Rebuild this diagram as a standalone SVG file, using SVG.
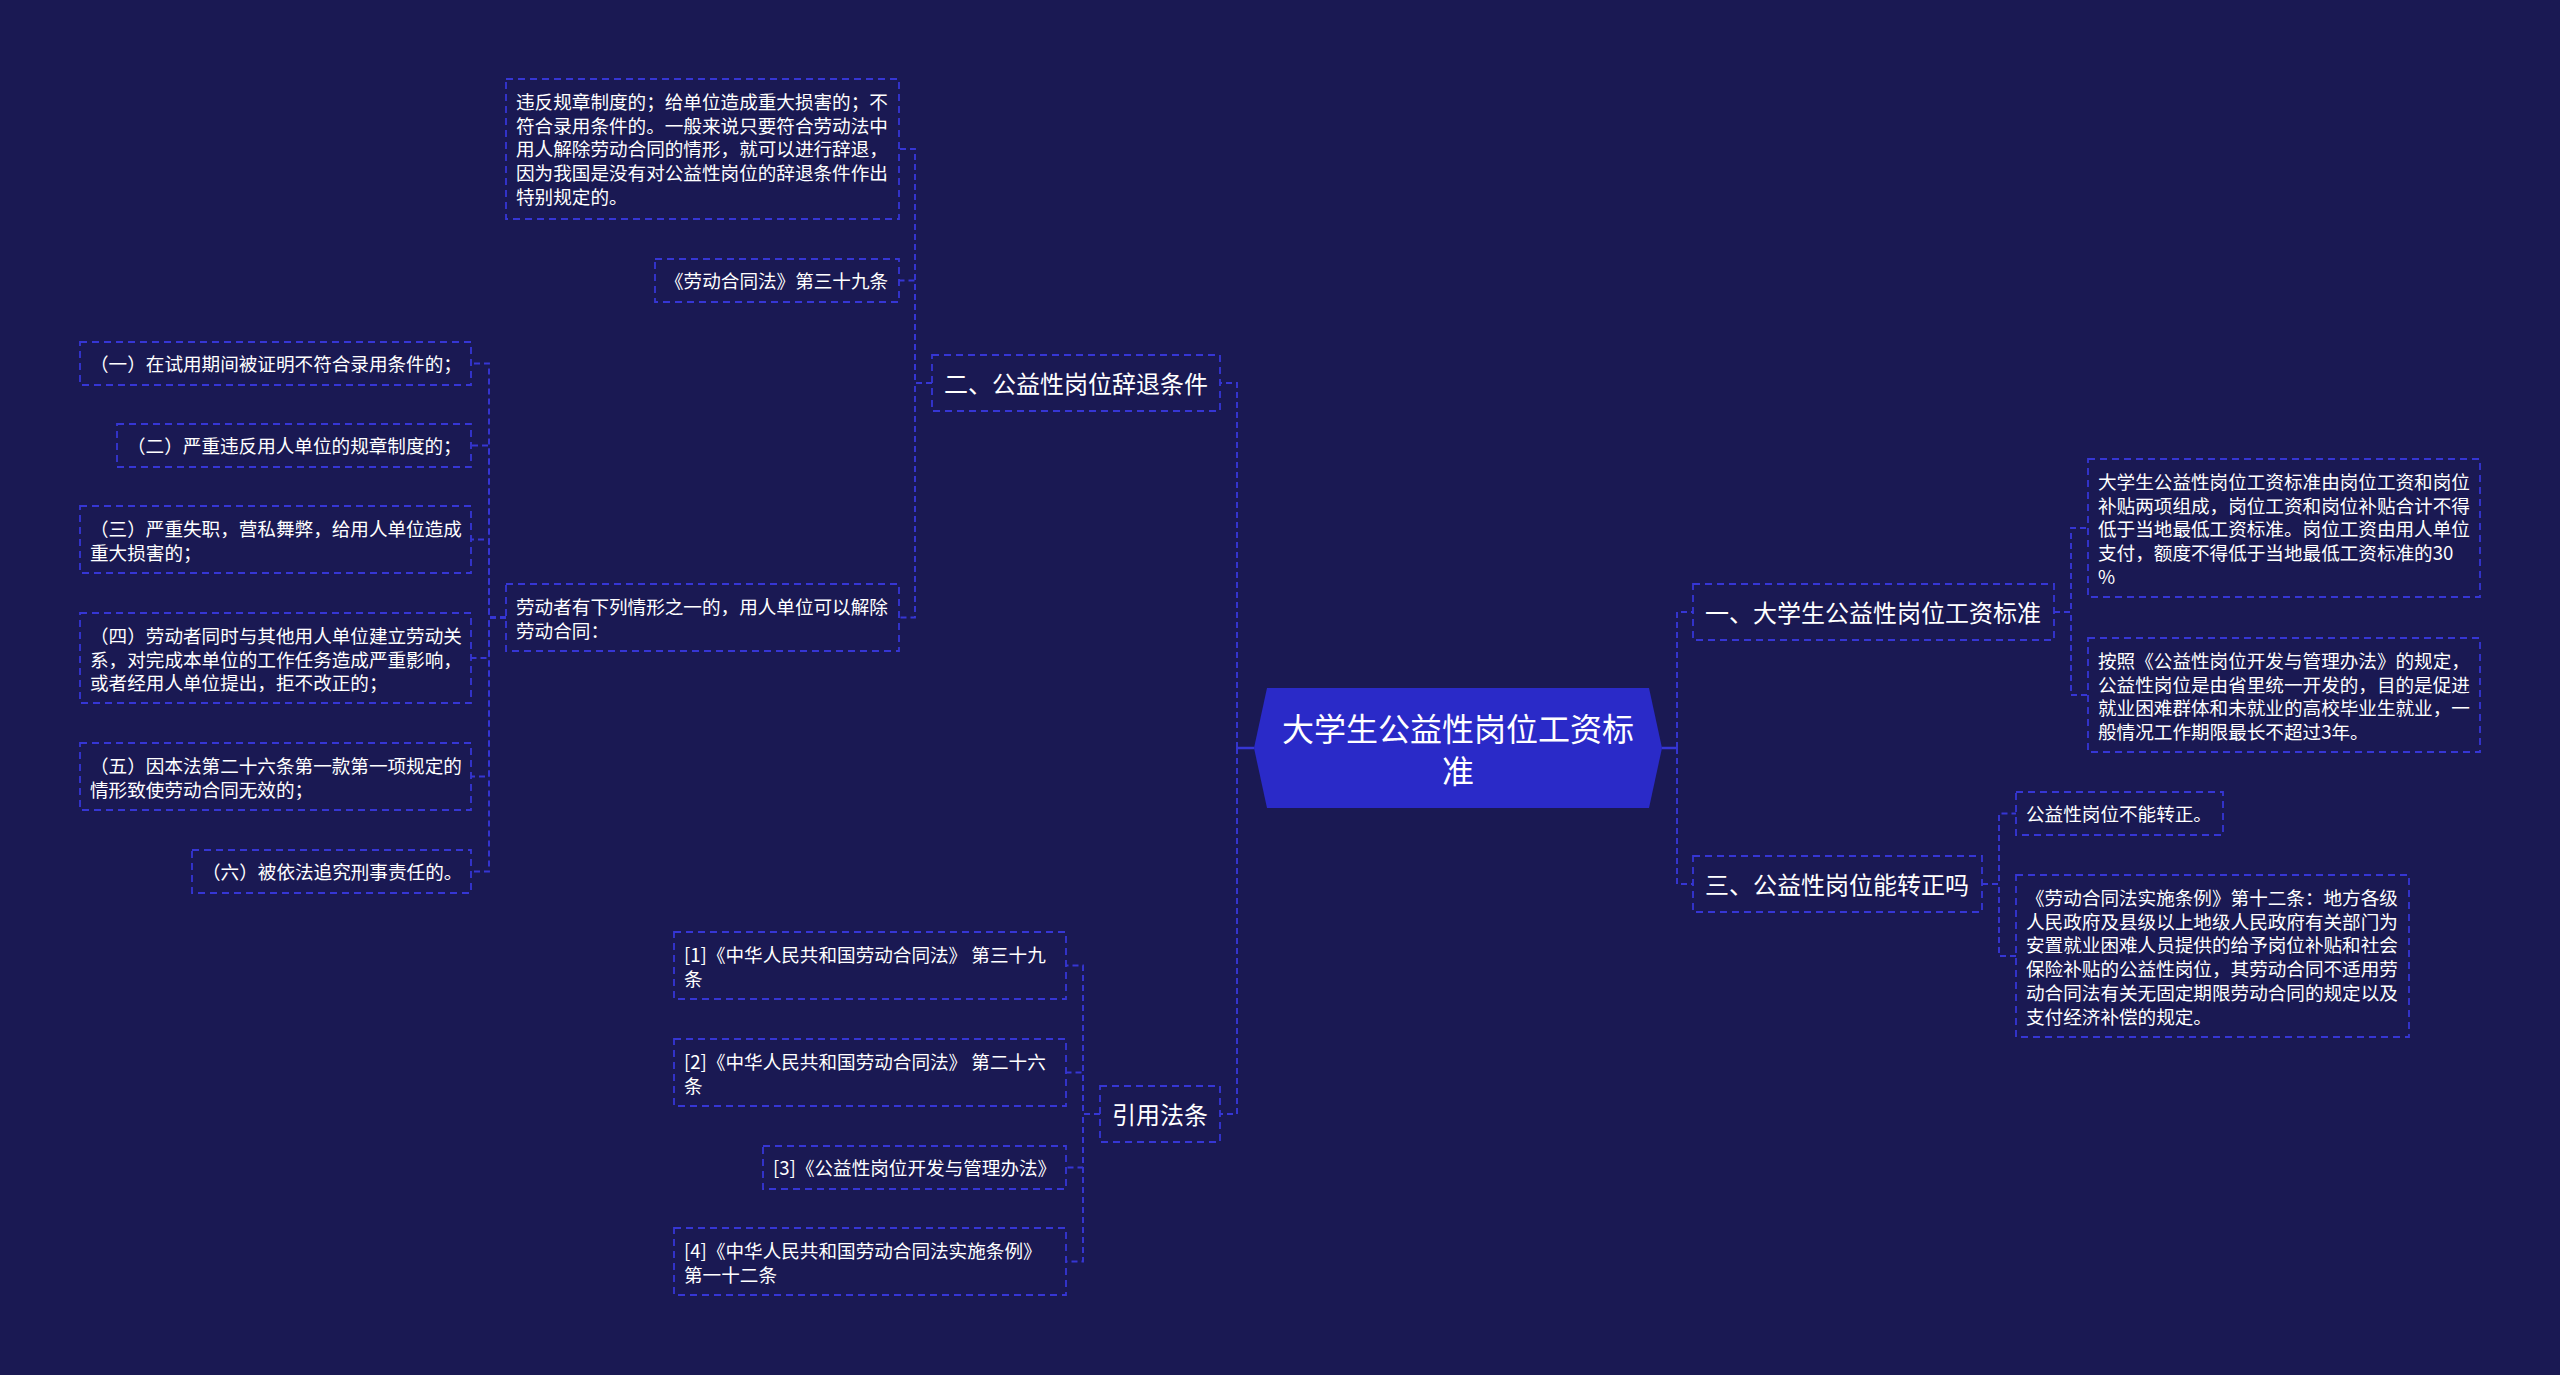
<svg xmlns="http://www.w3.org/2000/svg" width="2560" height="1375" viewBox="0 0 2560 1375">
<style>
text{font-family:"Noto Sans CJK SC","Noto Sans",sans-serif;fill:#ffffff;dominant-baseline:central}
.box{fill:none;stroke:#3636d4;stroke-width:1.8;stroke-dasharray:7 5}
.t1{font-size:24px}
.t2{font-size:18.6px}
.con{fill:none;stroke:#3636d4;stroke-width:1.9;stroke-dasharray:6 4}
.solid{fill:none;stroke:#3636d4;stroke-width:2.5}
</style>
<rect x="0" y="0" width="2560" height="1375" fill="#1a1953"/>
<g id="connectors">
<path class="solid" d="M1254,748 H1237"/>
<path class="solid" d="M1662,748 H1677"/>
<path class="con" d="M1237,748 V383 H1220"/>
<path class="con" d="M1237,748 V1114 H1220"/>
<path class="con" d="M1677,748 V612 H1693"/>
<path class="con" d="M1677,748 V884 H1693"/>
<path class="con" d="M2054,612 H2071 V528 H2088"/>
<path class="con" d="M2054,612 H2071 V695 H2088"/>
<path class="con" d="M1982,884 H1999 V813.5 H2016"/>
<path class="con" d="M1982,884 H1999 V956 H2016"/>
<path class="con" d="M932,383 H915 V149 H899"/>
<path class="con" d="M932,383 H915 V280.5 H899"/>
<path class="con" d="M932,383 H915 V617.5 H899"/>
<path class="con" d="M506,617.5 H489 V363.5 H471"/>
<path class="con" d="M506,617.5 H489 V445.5 H471"/>
<path class="con" d="M506,617.5 H489 V539.5 H471"/>
<path class="con" d="M506,617.5 H489 V658 H471"/>
<path class="con" d="M506,617.5 H489 V776.5 H471"/>
<path class="con" d="M506,617.5 H489 V871.5 H471"/>
<path class="con" d="M1100,1114 H1083 V965.5 H1066"/>
<path class="con" d="M1100,1114 H1083 V1072.5 H1066"/>
<path class="con" d="M1100,1114 H1083 V1167.5 H1066"/>
<path class="con" d="M1100,1114 H1083 V1261.5 H1066"/>
</g>
<g id="root">
<polygon points="1254,748 1267,688 1649,688 1662,748 1649,808 1267,808" fill="#2a2ac8"/>
<text x="1458" y="727" font-size="32" text-anchor="middle">大学生公益性岗位工资标</text>
<text x="1458" y="769" font-size="32" text-anchor="middle">准</text>
</g>
<g id="n-er">
<rect class="box" x="932" y="355" width="288" height="56"/>
<text class="t1" x="944" y="382">二、公益性岗位辞退条件</text>
</g>
<g id="n-er-1">
<rect class="box" x="506" y="79" width="393" height="140"/>
<text class="t2" x="516"><tspan x="516" y="100">违反规章制度的；给单位造成重大损害的；不</tspan><tspan x="516" y="123.7">符合录用条件的。一般来说只要符合劳动法中</tspan><tspan x="516" y="147.4">用人解除劳动合同的情形，就可以进行辞退，</tspan><tspan x="516" y="171.1">因为我国是没有对公益性岗位的辞退条件作出</tspan><tspan x="516" y="194.8">特别规定的。</tspan></text>
</g>
<g id="n-er-2">
<rect class="box" x="655" y="259" width="244" height="43"/>
<text class="t2" x="665" y="279.5">《劳动合同法》第三十九条</text>
</g>
<g id="n-er-3">
<rect class="box" x="506" y="584" width="393" height="67"/>
<text class="t2"><tspan x="516" y="605">劳动者有下列情形之一的，用人单位可以解除</tspan><tspan x="516" y="628.7">劳动合同：</tspan></text>
</g>
<g id="n-c1">
<rect class="box" x="80" y="342" width="391" height="43"/>
<text class="t2" x="90" y="362.5">（一）在试用期间被证明不符合录用条件的；</text>
</g>
<g id="n-c2">
<rect class="box" x="117" y="424" width="354" height="43"/>
<text class="t2" x="127" y="444.5">（二）严重违反用人单位的规章制度的；</text>
</g>
<g id="n-c3">
<rect class="box" x="80" y="506" width="391" height="67"/>
<text class="t2"><tspan x="90" y="527">（三）严重失职，营私舞弊，给用人单位造成</tspan><tspan x="90" y="550.7">重大损害的；</tspan></text>
</g>
<g id="n-c4">
<rect class="box" x="80" y="613" width="391" height="90"/>
<text class="t2"><tspan x="90" y="634">（四）劳动者同时与其他用人单位建立劳动关</tspan><tspan x="90" y="657.7">系，对完成本单位的工作任务造成严重影响，</tspan><tspan x="90" y="681.4">或者经用人单位提出，拒不改正的；</tspan></text>
</g>
<g id="n-c5">
<rect class="box" x="80" y="743" width="391" height="67"/>
<text class="t2"><tspan x="90" y="764">（五）因本法第二十六条第一款第一项规定的</tspan><tspan x="90" y="787.7">情形致使劳动合同无效的；</tspan></text>
</g>
<g id="n-c6">
<rect class="box" x="192" y="850" width="279" height="43"/>
<text class="t2" x="202" y="870.5">（六）被依法追究刑事责任的。</text>
</g>
<g id="n-yin">
<rect class="box" x="1100" y="1086" width="120" height="56"/>
<text class="t1" x="1112" y="1113">引用法条</text>
</g>
<g id="n-ref1">
<rect class="box" x="674" y="932" width="392" height="67"/>
<text class="t2"><tspan x="684" y="953">[1]《中华人民共和国劳动合同法》 第三十九</tspan><tspan x="684" y="976.7">条</tspan></text>
</g>
<g id="n-ref2">
<rect class="box" x="674" y="1039" width="392" height="67"/>
<text class="t2"><tspan x="684" y="1060">[2]《中华人民共和国劳动合同法》 第二十六</tspan><tspan x="684" y="1083.7">条</tspan></text>
</g>
<g id="n-ref3">
<rect class="box" x="763" y="1146" width="303" height="43"/>
<text class="t2" x="773" y="1166.5">[3]《公益性岗位开发与管理办法》</text>
</g>
<g id="n-ref4">
<rect class="box" x="674" y="1228" width="392" height="67"/>
<text class="t2"><tspan x="684" y="1249">[4]《中华人民共和国劳动合同法实施条例》</tspan><tspan x="684" y="1272.7">第一十二条</tspan></text>
</g>
<g id="n-yi">
<rect class="box" x="1693" y="584" width="361" height="56"/>
<text class="t1" x="1705" y="611">一、大学生公益性岗位工资标准</text>
</g>
<g id="n-yi-1">
<rect class="box" x="2088" y="459" width="392" height="138"/>
<text class="t2"><tspan x="2098" y="480">大学生公益性岗位工资标准由岗位工资和岗位</tspan><tspan x="2098" y="503.7">补贴两项组成，岗位工资和岗位补贴合计不得</tspan><tspan x="2098" y="527.4">低于当地最低工资标准。岗位工资由用人单位</tspan><tspan x="2098" y="551.1">支付，额度不得低于当地最低工资标准的30</tspan><tspan x="2098" y="574.8">%</tspan></text>
</g>
<g id="n-yi-2">
<rect class="box" x="2088" y="638" width="392" height="114"/>
<text class="t2"><tspan x="2098" y="659">按照《公益性岗位开发与管理办法》的规定，</tspan><tspan x="2098" y="682.7">公益性岗位是由省里统一开发的，目的是促进</tspan><tspan x="2098" y="706.4">就业困难群体和未就业的高校毕业生就业，一</tspan><tspan x="2098" y="730.1">般情况工作期限最长不超过3年。</tspan></text>
</g>
<g id="n-san">
<rect class="box" x="1693" y="856" width="289" height="56"/>
<text class="t1" x="1705" y="883">三、公益性岗位能转正吗</text>
</g>
<g id="n-san-1">
<rect class="box" x="2016" y="792" width="207" height="43"/>
<text class="t2" x="2026" y="812.5">公益性岗位不能转正。</text>
</g>
<g id="n-san-2">
<rect class="box" x="2016" y="875" width="393" height="162"/>
<text class="t2"><tspan x="2026" y="896">《劳动合同法实施条例》第十二条：地方各级</tspan><tspan x="2026" y="919.7">人民政府及县级以上地级人民政府有关部门为</tspan><tspan x="2026" y="943.4">安置就业困难人员提供的给予岗位补贴和社会</tspan><tspan x="2026" y="967.1">保险补贴的公益性岗位，其劳动合同不适用劳</tspan><tspan x="2026" y="990.8">动合同法有关无固定期限劳动合同的规定以及</tspan><tspan x="2026" y="1014.5">支付经济补偿的规定。</tspan></text>
</g>
</svg>
